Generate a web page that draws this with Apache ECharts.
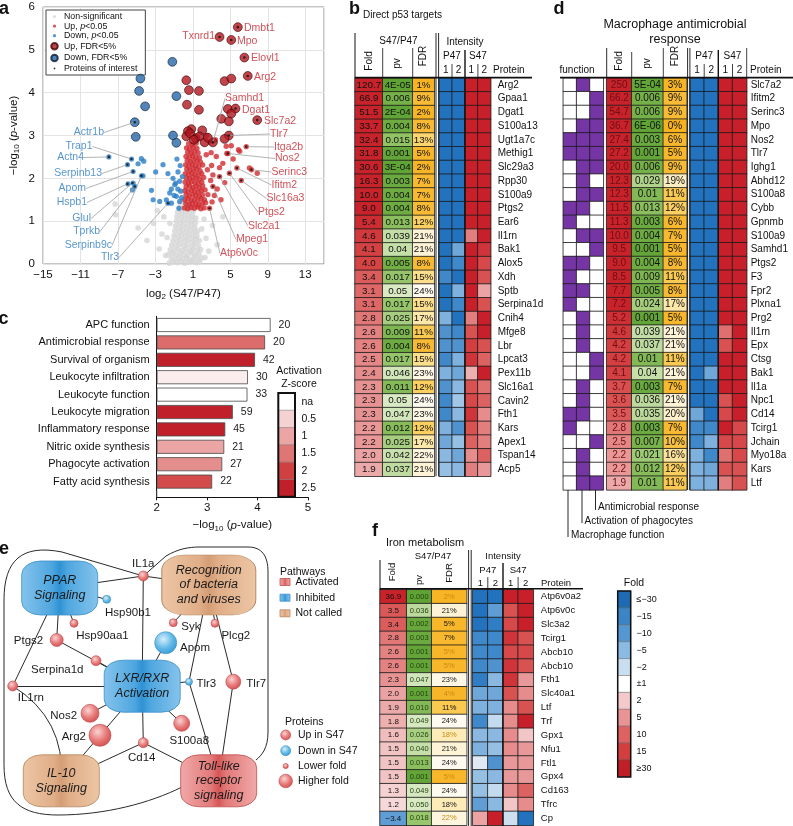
<!DOCTYPE html>
<html>
<head>
<meta charset="utf-8">
<title>Figure</title>
<script src="https://cdn.jsdelivr.net/npm/echarts@6/dist/echarts.min.js"></script>
<style>
html,body{margin:0;padding:0;background:#fff;}
#chart{width:793px;height:826px;}
</style>
</head>
<body>
<div id="chart"></div>
<script>
// ======================= DATA =======================
// ---- Panel a : volcano (log2 S47/P47, -log10 p) ----
const volcanoGray = [
[-1.52,0.02],[-1.08,0.05],[-0.66,0.03],[-0.28,0.06],[0.12,0.02],[0.51,0.04],[0.93,0.07],[1.34,0.03],[1.72,0.05],
[-1.31,0.13],[-0.88,0.11],[-0.47,0.15],[-0.06,0.12],[0.33,0.14],[0.74,0.10],[1.12,0.16],[1.55,0.12],[1.94,0.14],
[-1.62,0.22],[-1.18,0.24],[-0.79,0.21],[-0.37,0.25],[0.04,0.23],[0.43,0.20],[0.85,0.26],[1.26,0.22],[1.66,0.24],
[-1.41,0.33],[-0.97,0.31],[-0.58,0.35],[-0.15,0.32],[0.26,0.34],[0.66,0.30],[1.05,0.36],[1.47,0.32],[1.83,0.34],
[-1.25,0.44],[-0.83,0.42],[-0.42,0.46],[0.02,0.43],[0.41,0.45],[0.82,0.41],[1.21,0.47],[1.58,0.43],
[-1.12,0.55],[-0.71,0.53],[-0.30,0.57],[0.13,0.54],[0.54,0.56],[0.95,0.52],[1.36,0.58],[1.68,0.55],
[-1.02,0.66],[-0.61,0.64],[-0.19,0.68],[0.22,0.65],[0.63,0.67],[1.04,0.63],[1.44,0.66],
[-0.93,0.77],[-0.50,0.75],[-0.09,0.79],[0.32,0.76],[0.73,0.78],[1.14,0.74],[1.50,0.77],
[-0.86,0.88],[-0.44,0.86],[-0.02,0.90],[0.39,0.87],[0.80,0.89],[1.20,0.85],
[-0.77,0.99],[-0.35,0.97],[0.07,1.01],[0.48,0.98],[0.89,1.00],[1.27,0.96],
[-0.70,1.10],[-0.27,1.08],[0.15,1.12],[0.56,1.09],[0.96,1.11],[1.31,1.07],
[-0.62,1.21],[-0.20,1.19],[0.22,1.23],[0.63,1.20],[1.02,1.22],
[-0.48,1.32],[-0.08,1.30],[0.31,1.34],[0.70,1.31],
[-0.31,1.42],[0.09,1.44],[0.48,1.41],
[-7.30,1.40],[-7.25,1.15],[-4.85,0.84],[-3.90,0.55],[-3.20,0.95],[-2.60,0.35],[-2.30,0.70],[-2.10,1.10],
[2.40,0.60],[2.70,0.30],[3.10,0.90],[3.60,0.45],[2.20,1.05],[-1.90,0.20],[2.30,0.15],[-2.80,1.25],[4.20,1.10],
[-1.75,0.62],[1.95,0.82],[-1.45,0.95]
];
const volcanoUpP = [
[0.10,1.31],[0.45,1.29],[0.80,1.32],[1.15,1.30],[1.50,1.33],[1.85,1.29],[2.20,1.31],
[0.25,1.41],[0.60,1.39],[0.95,1.42],[1.30,1.40],[1.65,1.38],[2.00,1.41],[2.35,1.43],
[0.13,1.50],[0.48,1.52],[0.83,1.49],[1.18,1.51],[1.53,1.48],[1.88,1.52],[2.23,1.50],
[0.27,1.61],[0.62,1.59],[0.97,1.62],[1.32,1.60],[1.67,1.58],[2.02,1.61],
[0.15,1.71],[0.50,1.69],[0.85,1.72],[1.20,1.70],[1.55,1.68],[1.90,1.71],[2.30,1.73],
[0.28,1.80],[0.63,1.82],[0.98,1.79],[1.33,1.81],[1.68,1.78],[2.05,1.82],
[0.17,1.91],[0.52,1.89],[0.87,1.92],[1.22,1.90],[1.57,1.88],[1.95,1.91],
[0.31,2.01],[0.66,1.99],[1.01,2.02],[1.36,2.00],[1.71,1.98],[2.15,2.02],
[0.20,2.11],[0.55,2.09],[0.90,2.12],[1.25,2.10],[1.60,2.08],[1.95,2.11],
[0.35,2.21],[0.70,2.19],[1.05,2.22],[1.40,2.20],[1.77,2.18],
[0.23,2.31],[0.58,2.29],[0.93,2.32],[1.28,2.30],[1.63,2.28],[2.05,2.31],
[0.39,2.41],[0.74,2.39],[1.09,2.42],[1.44,2.40],[1.80,2.38],
[0.27,2.51],[0.62,2.49],[0.97,2.52],[1.32,2.50],[1.70,2.48],
[0.45,2.61],[0.80,2.59],[1.15,2.62],[1.55,2.60],
[0.33,2.71],[0.68,2.69],[1.03,2.72],[1.43,2.70],
[0.55,2.81],[0.95,2.79],[1.35,2.82],
[3.14,2.08],[3.85,2.04],[4.63,2.58],[5.87,2.67],[5.70,2.24],[7.04,2.24],[6.16,1.95],[4.90,2.12],[3.85,2.25],
[3.50,2.51],[2.43,2.55],[2.78,1.30],[3.14,1.81],[7.26,2.20],[7.87,2.12],[4.73,2.58],[5.10,2.76],[4.56,2.75],[6.00,2.63],
[6.70,2.74],[3.30,1.60],[2.90,1.95],[3.60,1.75],[4.20,2.35],[2.80,2.85],[3.00,2.30],[4.00,1.50],[5.30,2.45],
[3.40,2.90],[2.50,3.00],[3.05,1.45],[2.95,2.60],[4.40,1.90],[2.60,1.62],[2.55,2.20]
];
const volcanoDownP = [
[-7.97,2.50],[-5.55,2.45],[-4.50,2.46],[-5.98,2.32],[-4.85,2.34],[-4.24,2.40],[-5.38,2.16],[-4.49,2.06],[-4.32,2.06],
[-5.92,1.87],[-5.38,1.89],[-5.20,1.81],[-5.45,1.73],[-2.97,2.15],[-1.66,2.11],[-2.19,2.32],[-0.59,2.15],[-0.84,1.89],
[-0.41,1.93],[-3.42,1.72],[-3.24,1.50],[-2.54,1.46],[-1.83,1.50],[-1.47,1.66],[-0.76,1.58],[-1.29,1.42],[-0.41,1.46],
[-0.48,1.30],[-0.94,1.85],[-1.12,2.00],[-0.12,2.04],[-1.66,1.42],[-0.30,1.70],[-0.60,1.75],[-0.20,1.55],[-1.00,1.60],
[-0.35,2.30],[-0.70,2.45],[-1.30,1.75]
];
const volcanoUpFDR = [
[5.80,5.53],[3.85,5.30],[5.10,5.23],[6.50,4.82],[6.86,4.39],[4.38,4.27],[5.10,4.33],[0.30,4.29],[0.58,4.06],[1.65,4.04],
[0.37,3.72],[1.65,3.60],[4.73,3.62],[5.55,3.63],[5.10,3.51],[4.03,3.39],[4.84,3.33],[7.87,3.36],[0.84,3.15],[0.47,3.10],
[2.00,3.12],[0.30,2.98],[1.30,2.94],[1.72,2.98],[2.25,2.84],[3.14,2.84],[4.84,3.00],[4.38,2.92],[0.70,3.05],[1.10,2.90],[2.60,2.95]
];
const volcanoDownFDR = [
[-1.19,4.72],[-4.60,4.33],[-4.74,4.04],[-0.76,3.92],[-4.10,3.68],[-5.20,3.31],[-5.10,2.97],[-1.12,3.00],[-0.76,2.83]
];
const labelledNames = ['Txnrd1','Dmbt1','Mpo','Elovl1','Arg2','Samhd1','Dgat1','Slc7a2','Tlr7','Itga2b','Nos2','Serinc3','Ifitm2','Slc16a3','Ptgs2','Slc2a1','Mpeg1','Atp6v0c',
  'Actr1b','Trap1','Actn4','Serpinb13','Apom','Hspb1','Glul','Tprkb','Serpinb9c','Tlr3'];
const labelledLog2FC = [3.85,5.80,5.10,6.50,6.86,3.14,5.55,7.87,4.84,6.70,4.73,7.26,5.70,6.16,4.90,3.85,3.14,2.78,
  -5.20,-5.55,-7.97,-5.98,-5.38,-5.98,-5.45,-5.20,-4.49,-1.66];
const labelledLogP = [5.30,5.53,5.23,4.82,4.39,2.84,3.63,3.36,3.00,2.74,2.58,2.20,2.24,1.95,2.12,2.04,1.81,1.30,
  3.31,2.45,2.50,2.32,2.16,1.87,1.89,1.81,2.06,1.42];

// ---- Panel c : enriched functions ----
const cTerms = ['APC function','Antimicrobial response','Survival of organism','Leukocyte infiltration','Leukocyte function',
  'Leukocyte migration','Inflammatory response','Nitric oxide synthesis','Phagocyte activation','Fatty acid synthesis'];
const cLogP = [4.26,4.15,3.95,3.81,3.80,3.51,3.36,3.34,3.30,3.10];
const cCount = [20,20,42,30,33,59,45,21,27,22];
const cZ = [null,1.6,2.6,0.2,null,2.6,2.5,1.0,1.25,1.9];
const cZLegend = ['na','0.5','1','1.5','2','2.5'];
const cZLegendValues = [null,0.5,1,1.5,2,2.5];

// ---- Panel b : direct p53 targets ----
const bProteins = ['Arg2','Gpaa1','Dgat1','S100a13','Ugt1a7c','Methig1','Slc29a3','Rpp30','S100a9','Ptgs2','Ear6','Il1rn','Bak1','Alox5',
  'Xdh','Sptb','Serpina1d','Cnih4','Mfge8','Lbr','Lpcat3','Pex11b','Slc16a1','Cavin2','Fth1','Kars','Apex1','Tspan14','Acp5'];
const bFold = [120.7,66.9,51.5,33.7,32.4,31.8,30.6,16.3,10.0,9.0,5.4,4.6,4.1,4.0,3.4,3.1,3.1,2.8,2.6,2.6,2.5,2.4,2.3,2.3,2.3,2.2,2.2,2.0,1.9];
const bPv = ['4E-05','0.006','2E-04','0.004','0.015','0.001','3E-04','0.003','0.004','0.004','0.013','0.039','0.04','0.005','0.017',
  '0.05','0.017','0.025','0.009','0.004','0.017','0.046','0.011','0.05','0.047','0.012','0.025','0.042','0.037'];
const bFdr = [1,9,2,8,13,5,2,7,7,8,12,21,21,8,15,24,15,17,11,8,15,23,12,24,23,12,17,22,21];
const bIntensity = [ // P47 rep1, P47 rep2, S47 rep1, S47 rep2 (scaled)
[-2,-2,2,2],[-2,-2,2,2],[-2,-2,2,2],[-2,-2,2,2],[-2,-2,2,2],[-2,-2,2,2],[-2,-2,2,2],[-2,-2,2,2],[-2,-2,2,2],[-2,-2,2,2],[-2,-2,2,2],
[-2,-2,1.2,2],[-2,-1.3,2,1.8],[-2,-1.6,2,1.6],[-1.6,-2,2,1.5],[-2,-1.2,2,0.9],[-2,-1.6,2,1.5],[-1.2,-2,1.2,2],[-1.5,-1.6,1.5,2],
[-1.5,-1.5,1.7,1.5],[-1.6,-1.2,1.8,1.4],[-1.2,-1.3,0.8,2],[-1.5,-1.1,1.5,1.3],[-1.6,-0.9,1.6,1.4],[-1.6,-1.1,1.8,1.1],
[-1.2,-1.5,1.5,1.2],[-1.3,-1.0,1.4,1.2],[-1.1,-1.3,1.1,1.4],[-1.0,-1.1,1.2,1.0]
];

// ---- Panel d : macrophage antimicrobial response ----
const dProteins = ['Slc7a2','Ifitm2','Serinc3','Mpo','Nos2','Tlr7','Ighg1','Abhd12','S100a8','Cybb','Gpnmb','S100a9','Samhd1','Ptgs2','F3',
  'Fpr2','Plxna1','Prg2','Il1rn','Epx','Ctsg','Bak1','Il1a','Npc1','Cd14','Tcirg1','Jchain','Myo18a','Kars','Ltf'];
const dFold = [250,66.2,54.7,36.7,27.4,27.2,20.0,12.3,12.3,11.5,11.3,10.0,9.5,9.0,8.5,7.7,7.2,5.2,4.6,4.2,4.2,4.1,3.7,3.6,3.5,2.8,2.5,2.2,2.2,1.9];
const dPv = ['5E-04','0.006','0.006','6E-06','0.003','0.001','0.006','0.029','0.01','0.013','0.003','0.004','0.001','0.004','0.009',
  '0.005','0.024','0.001','0.039','0.037','0.01','0.04','0.003','0.036','0.035','0.003','0.007','0.021','0.012','0.01'];
const dFdr = [3,9,9,0,6,5,9,19,11,12,6,7,5,8,11,8,17,5,21,21,11,21,7,21,20,7,10,16,12,11];
const dFunctionNames = ['Macrophage function','Activation of phagocytes','Antimicrobial response'];
const dFunction = [
[0,1,0],[0,0,1],[0,0,1],[0,1,1],[1,1,1],[1,1,1],[0,1,1],[0,1,0],[0,1,1],[1,1,0],[1,0,0],[0,1,1],[0,0,1],[1,1,0],[1,0,0],
[1,1,0],[1,0,0],[0,1,0],[0,1,0],[0,1,0],[0,0,1],[0,0,1],[0,1,0],[0,1,0],[1,1,0],[1,0,0],[0,0,1],[0,1,0],[0,1,0],[0,1,1]
];
const dIntensity = [
[-2,-2,2,2],[-2,-2,2,2],[-2,-2,2,2],[-2,-2,2,2],[-2,-2,2,2],[-2,-2,2,2],[-2,-2,2,2],[-2,-2,2,2],[-2,-2,2,2],[-2,-2,2,2],
[-2,-2,2,2],[-2,-2,2,2],[-2,-2,2,2],[-2,-2,2,2],[-2,-2,2,2],[-2,-2,2,2],[-2,-2,2,2],[-2,-2,2,2],
[-2,-2,1.3,2],[-2,-2,1.5,2],[-2,-2,2,2],[-2,-1.3,2,2],[-2,-2,2,2],[-2,-2,1.5,2],[-1.3,-2,1.6,2],[-1.6,-1.6,2,1.6],
[-1.6,-1.2,1.6,1.6],[-1.2,-1.6,1.3,1.6],[-1.2,-1.3,1.5,1.5],[-1.2,-1.2,1.2,1.5]
];

// ---- Panel f : iron metabolism ----
const fProteins = ['Atp6v0a2','Atp6v0c','Slc3a2','Tcirg1','Abcb10','Abcb10','Fth1','Slc40a1','Ltf','Trf','Gpx1','Nfu1','Ftl1','Gpx4','Cd163','Tfrc','Cp'];
const fFold = [36.9,3.5,3.4,2.8,2.6,2.6,2.3,2.0,1.9,1.8,1.6,1.5,1.5,1.5,1.3,1.2,-3.4];
const fPv = ['0.000','0.036','0.002','0.003','0.001','0.001','0.047','0.001','0.010','0.049','0.026','0.040','0.013','0.001','0.049','0.050','0.018'];
const fFdr = [2,21,5,7,5,5,23,4,11,24,18,21,24,5,24,18,22];
const fFdrFlag = [1,0,0,0,1,1,0,1,0,0,1,0,0,1,0,0,1];
const fIntensity = [
[-2,-2,2,2],[-2,-1.4,1.5,2],[-2,-1.8,1.6,2],[-1.6,-1.6,1.8,1.5],[-1.6,-1.6,1.6,1.6],[-1.6,-1.5,1.8,1.5],[-1.8,-1.1,1.8,1.0],
[-1.3,-1.3,1.5,1.1],[-1.2,-1.2,1.1,1.5],[-1.6,-0.6,1.1,2],[-1.1,-1.1,1.1,0.6],[-1.2,-1.0,1.1,1.0],[-0.3,-1.5,1.0,1.0],
[-1.0,-1.1,1.0,1.0],[-1.0,-0.6,1.1,1.4],[-1.4,-1.1,0.6,1.1],[0.9,2,-0.5,-2]
];
const foldLegendLabels = ['\u2264\u221230','\u221215','\u221210','\u22125','\u22122','\u00b11','2','5','10','15','\u226530'];
const foldLegendValues = [-30,-15,-10,-5,-2,1,2,5,10,15,30];

// ---- Panel e : network ----
const netPathways = ['PPAR','Recognition','LXR','IL10','TLR'];
const netPathwayText = ['PPAR\nSignaling','Recognition\nof bacteria\nand viruses','LXR/RXR\nActivation','IL-10\nSignaling','Toll-like\nreceptor\nsignaling'];
const netPathwayState = ['inhibited','notcalled','inhibited','notcalled','activated'];
const netProteins = ['IL1a','Hsp90b1','Hsp90aa1','Ptgs2','Syk','Plcg2','Apom','Serpina1d','IL1rn','Tlr3','Tlr7','Nos2','Arg2','S100a8','Cd14'];
const netProteinDir = ['up','down','up','up','up','up','down','up','up','down','up','up','up','up','up'];
const netLinks = [['PPAR','IL1a'],['IL1a','Recognition'],['IL1a','LXR'],['Hsp90b1','PPAR'],['Hsp90aa1','PPAR'],['Ptgs2','PPAR'],
  ['Ptgs2','LXR'],['PPAR','IL1rn'],['IL1rn','LXR'],['IL1rn','IL10'],['Serpina1d','LXR'],['Syk','Recognition'],['Plcg2','Recognition'],
  ['Apom','LXR'],['Tlr3','LXR'],['Tlr3','Recognition'],['Tlr3','TLR'],['Tlr7','Recognition'],['Tlr7','TLR'],['Nos2','LXR'],
  ['Arg2','LXR'],['Arg2','IL10'],['S100a8','LXR'],['Cd14','LXR'],['Cd14','IL10'],['Cd14','TLR']];

// ======================= LAYOUT / STYLE =======================
const FONT = "'Liberation Sans', Arial, Helvetica, sans-serif";
const MINUS = '\u2212';
const labelSpots = {
 Txnrd1:[215,36,'right',0], Dmbt1:[244,28,'left',0], Mpo:[237,41.5,'left',0], Elovl1:[251,58.5,'left',0], Arg2:[254,77,'left',0],
 Samhd1:[225,98.5,'left',1], Dgat1:[242,110,'left',0], Slc7a2:[264,121,'left',0], Tlr7:[270,134,'left',1], Itga2b:[274,147,'left',1],
 Nos2:[275,158.5,'left',1], Serinc3:[271.5,172,'left',1], Ifitm2:[271.5,185,'left',1], Slc16a3:[266.5,198.5,'left',1], Ptgs2:[258,212,'left',1],
 Slc2a1:[248,226,'left',1], Mpeg1:[236,239.5,'left',1], Atp6v0c:[220,253.5,'left',1],
 Actr1b:[104,132.5,'right',1], Trap1:[92.5,146.5,'right',1], Actn4:[84,157.5,'right',1], Serpinb13:[102,173.5,'right',1], Apom:[86,188.5,'right',1],
 Hspb1:[87,202.5,'right',1], Glul:[91,218.5,'right',1], Tprkb:[100,231.5,'right',1], Serpinb9c:[112,245.5,'right',1], Tlr3:[119,257.5,'right',1]
};
const netLayout = {
 PPAR:[59.7,588,76,54], Recognition:[208.8,585,94,60], LXR:[142.2,686.2,76,52], IL10:[61.3,780.8,76,52], TLR:[218.7,780.8,76,52],
 IL1a:[143.3,576,10,0,-12], Hsp90b1:[106.7,599.3,8,21.3,13.7], Hsp90aa1:[74,623.3,8,28.5,12.7], Ptgs2:[56.7,640,13,-28.2,1],
 Syk:[173.3,622.7,8,17.5,4], Plcg2:[215,623.3,8,20.8,12.4], Apom:[165.7,642.7,22,29.3,5], Serpina1d:[96,660.7,10,-38.7,9.3],
 IL1rn:[12.7,686,10,18.1,12.3], Tlr3:[189,681.7,7,17.3,2.3], Tlr7:[233.3,681.7,15,22.9,2.3], Nos2:[90,713.3,18,-26.3,2.7],
 Arg2:[100,735.3,22,-26.2,2], S100a8:[181.7,723.3,16,7.5,17.7], Cd14:[143.3,742.7,10,-1.6,15]
};
const netCurve = {'IL1rn-IL10':0.3};

function hex2rgb(h){h=h.replace('#','');return [parseInt(h.slice(0,2),16),parseInt(h.slice(2,4),16),parseInt(h.slice(4,6),16)];}
function rgb2hex(a){return '#'+a.map(v=>Math.round(Math.max(0,Math.min(255,v))).toString(16).padStart(2,'0')).join('');}
function ramp(stops, v){
  if (v<=stops[0][0]) return stops[0][1];
  for (let i=1;i<stops.length;i++){
    if (v<=stops[i][0]){
      const t=(v-stops[i-1][0])/(stops[i][0]-stops[i-1][0]);
      const a=hex2rgb(stops[i-1][1]), b=hex2rgb(stops[i][1]);
      return rgb2hex(a.map((x,k)=>x+(b[k]-x)*t));
    }
  }
  return stops[stops.length-1][1];
}
const FOLD_POS=[[1,'#fbe6e6'],[1.5,'#f2c3c3'],[2,'#eba2a2'],[3,'#df6c6c'],[4,'#d54343'],[6,'#c8222b']];
const FOLD_NEG=[[1,'#e8f0f8'],[2,'#c6dbef'],[3,'#6fa7d9'],[4,'#4a8fcc'],[6,'#2a72b8']];
function foldColor(v){ return v>=0 ? ramp(FOLD_POS, v) : ramp(FOLD_NEG, -v); }
const INT_STOPS=[[-2,'#2272bd'],[-1.6,'#3f88c9'],[-1.2,'#7fb1de'],[-0.6,'#c4dbef'],[0,'#f7f7f7'],[0.6,'#f2c6c6'],[1.1,'#e68c8c'],[1.5,'#d95252'],[2,'#c8202a']];
const PV_STOPS=[[0,'#5fa335'],[0.005,'#72ae45'],[0.015,'#91c264'],[0.03,'#b2d48e'],[0.05,'#d8e9c3']];
const FDR_STOPS=[[0,'#f7b21f'],[9,'#f8bb35'],[12,'#fbd060'],[15,'#fcdf8c'],[18,'#fdebb8'],[21,'#fef3d6'],[24,'#fffaf0']];
const Z_STOPS=[[0,'#ffffff'],[0.5,'#f5d2d2'],[1,'#eba5a5'],[1.5,'#df7676'],[2,'#d04040'],[2.5,'#c0202a']];
const LEGEND_FOLD_COLORS = {'-30':'#1e6bb3','-15':'#3b84c6','-10':'#5597d0','-5':'#8bbbe2','-2':'#c9dff1','1':'#ffffff','2':'#f4c9c9','5':'#e99494','10':'#de6262','15':'#d33f3f','30':'#c11f28'};
function zColor(z){ return z==null ? '#ffffff' : ramp(Z_STOPS, z); }
function fmtFold(v){ const a=Math.abs(v); const s=(a>=100 && Number.isInteger(a)) ? String(a) : a.toFixed(1); return (v<0?MINUS:'')+s; }
function fmtTick(v){ return v<0 ? MINUS+Math.abs(v) : String(v); }

const grids=[], xAxes=[], yAxes=[], series=[], G=[];

// ---------- a : volcano ----------
grids.push({left:43, top:7, width:281, height:257, show:true, borderColor:'#8a8a8a', borderWidth:1});
xAxes.push({type:'value', gridIndex:0, min:-15, max:15, interval:4,
  axisLine:{show:false}, axisTick:{show:false},
  splitLine:{show:true, lineStyle:{color:'#e4e4e4', width:1}},
  axisLabel:{fontSize:11.5, color:'#111', fontFamily:FONT, margin:5, showMaxLabel:false, formatter:v=> v===15?'':fmtTick(v)},
  name:'log{s|2} (S47/P47)', nameLocation:'middle', nameGap:23,
  nameTextStyle:{fontSize:11.5, color:'#111', fontFamily:FONT, rich:{s:{fontSize:8, fontFamily:FONT, verticalAlign:'bottom', padding:[6,0,0,0]}}}});
yAxes.push({type:'value', gridIndex:0, min:0, max:6, interval:1,
  axisLine:{show:false}, axisTick:{show:false},
  splitLine:{show:true, lineStyle:{color:'#e4e4e4', width:1}},
  axisLabel:{fontSize:11.5, color:'#111', fontFamily:FONT, margin:8},
  name:MINUS+'log{s|10} ({i|p}-value)', nameLocation:'middle', nameGap:22, nameRotate:90,
  nameTextStyle:{fontSize:11.5, color:'#111', fontFamily:FONT, rich:{s:{fontSize:8, fontFamily:FONT, verticalAlign:'bottom', padding:[6,0,0,0]}, i:{fontSize:11.5, fontStyle:'italic', fontFamily:FONT}}}});

series.push({name:'Non-significant', type:'scatter', xAxisIndex:0, yAxisIndex:0, data:volcanoGray, symbolSize:5.6, itemStyle:{color:'#d6d6d6'}, silent:true, z:2});
series.push({name:'Up, p<0.05', type:'scatter', xAxisIndex:0, yAxisIndex:0, data:volcanoUpP, symbolSize:5.4, itemStyle:{color:'#cf2a30'}, silent:true, z:3});
series.push({name:'Down, p<0.05', type:'scatter', xAxisIndex:0, yAxisIndex:0, data:volcanoDownP, symbolSize:5.2, itemStyle:{color:'#2a7dc4'}, silent:true, z:3});
series.push({name:'Up, FDR<5%', type:'scatter', xAxisIndex:0, yAxisIndex:0, data:volcanoUpFDR, symbolSize:8.8, itemStyle:{color:'#b3171f', borderColor:'#3a0808', borderWidth:0.8}, silent:true, z:4});
series.push({name:'Down, FDR<5%', type:'scatter', xAxisIndex:0, yAxisIndex:0, data:volcanoDownFDR, symbolSize:8.8, itemStyle:{color:'#2766a8', borderColor:'#0c1c30', borderWidth:0.8}, silent:true, z:4});
series.push({name:'Proteins of interest', type:'scatter', xAxisIndex:0, yAxisIndex:0, symbolSize:2.6, itemStyle:{color:'#111'}, silent:true, z:5,
  data: labelledNames.map((n,i)=>({name:n, value:[labelledLog2FC[i], labelledLogP[i]],
     label:{color: labelledLog2FC[i]>0 ? '#c4262e' : '#2d7cc0'}, labelLine:{show: !!labelSpots[n][3]}})),
  label:{show:true, formatter:'{b}', fontSize:10.5, fontFamily:FONT},
  labelLine:{show:true, length2:0, lineStyle:{color:'#a0a0a0', width:0.8}},
  labelLayout:(p)=>{ const s=labelSpots[labelledNames[p.dataIndex]]; return {x:s[0], y:s[1], align:s[2], verticalAlign:'middle', hideOverlap:false}; }
});

// ---------- c : bar chart ----------
grids.push({left:156.7, top:316.3, width:151.2, height:174});
xAxes.push({type:'value', gridIndex:1, min:2, max:5, interval:1, startValue:2, offset:7,
  axisLine:{show:true, lineStyle:{color:'#111', width:1}}, axisTick:{show:true, length:3, lineStyle:{color:'#111'}},
  splitLine:{show:false},
  axisLabel:{fontSize:11.5, color:'#111', fontFamily:FONT, margin:5},
  name:MINUS+'log{s|10} ({i|p}-value)', nameLocation:'middle', nameGap:21,
  nameTextStyle:{fontSize:11.5, color:'#111', fontFamily:FONT, rich:{s:{fontSize:8, fontFamily:FONT, verticalAlign:'bottom', padding:[6,0,0,0]}, i:{fontSize:11.5, fontStyle:'italic', fontFamily:FONT}}}});
yAxes.push({type:'category', gridIndex:1, data:cTerms, inverse:true,
  axisLine:{show:true, lineStyle:{color:'#111', width:1}}, axisTick:{show:false},
  axisLabel:{fontSize:11, color:'#111', fontFamily:FONT, margin:7, interval:0}});
series.push({type:'bar', xAxisIndex:1, yAxisIndex:1, barWidth:14, silent:true,
  itemStyle:{borderColor:'#4a4a4a', borderWidth:0.8},
  data: cLogP.map((v,i)=>({value:v, itemStyle:{color:zColor(cZ[i])}})),
  label:{show:true, position:'right', distance:8, fontSize:10.5, color:'#222', fontFamily:FONT, formatter:(p)=>String(cCount[p.dataIndex])}});

// ---------- e : network (hidden pixel-scaled axes) ----------
grids.push({left:0, top:540, width:300, height:286});
xAxes.push({type:'value', gridIndex:2, min:0, max:300, show:false});
yAxes.push({type:'value', gridIndex:2, min:540, max:826, inverse:true, show:false});
function linGrad(stops){ return {type:'linear', x:0, y:0, x2:1, y2:0, colorStops:stops}; }
function radGrad(stops){ return {type:'radial', x:0.4, y:0.35, r:0.75, colorStops:stops}; }
function pathFill(state){
  const c = state==='inhibited' ? ['#86c4ec','#4ea6df','#2f92d4'] : state==='activated' ? ['#f1a9a9','#e27a7a','#d65656'] : ['#edc6a5','#e0ae88','#d49d75'];
  return linGrad([{offset:0,color:c[0]},{offset:0.4,color:c[1]},{offset:0.5,color:c[2]},{offset:0.6,color:c[1]},{offset:1,color:c[0]}]);
}
function sphereFill(dir){
  return dir==='up' ? radGrad([{offset:0,color:'#fbd2d2'},{offset:0.55,color:'#e67676'},{offset:1,color:'#cf4646'}])
                    : radGrad([{offset:0,color:'#d8effb'},{offset:0.55,color:'#5fb7e6'},{offset:1,color:'#2f95d0'}]);
}
const netNodes = [];
netPathways.forEach((p,i)=>{
  const L=netLayout[p];
  netNodes.push({name:p, value:[L[0],L[1]], symbol:'roundRect', symbolSize:[L[2],L[3]],
    itemStyle:{color:pathFill(netPathwayState[i]), borderColor: netPathwayState[i]==='inhibited'?'#3c8fc8':(netPathwayState[i]==='activated'?'#c05050':'#b48660'), borderWidth:0.8},
    label:{show:true, position:'inside', formatter:netPathwayText[i], fontStyle:'italic', fontSize:12.5, lineHeight:14.5, color:'#1a1a1a', fontFamily:FONT}});
});
netProteins.forEach((p,i)=>{
  const L=netLayout[p];
  netNodes.push({name:p, value:[L[0],L[1]], symbol:'circle', symbolSize:L[2],
    itemStyle:{color:sphereFill(netProteinDir[i]), borderColor: netProteinDir[i]==='up'?'#b84a4a':'#3a8cc0', borderWidth:0.6},
    label:{show:true, position:'inside', offset:[L[3],L[4]], formatter:p, fontSize:11.5, color:'#1a1a1a', fontFamily:FONT}});
});
series.push({type:'graph', coordinateSystem:'cartesian2d', xAxisIndex:2, yAxisIndex:2, silent:true, z:3,
  emphasis:{disabled:true}, data:netNodes,
  links: netLinks.map(l=>({source:l[0], target:l[1], lineStyle:{curveness: netCurve[l[0]+'-'+l[1]]||0}})),
  lineStyle:{color:'#2a2a2a', width:1, opacity:1}});

// ---------- tables ----------
function addTable(left, top, width, height, nCols, nRows, cells, opts){
  opts = opts || {};
  const gi = grids.length;
  grids.push({left, top, width, height});
  const xi = xAxes.length;
  xAxes.push({type:'category', gridIndex:gi, data:Array.from({length:nCols},(_,i)=>String(i)), show:false});
  const yi = yAxes.length;
  const rl = opts.rowLabels;
  yAxes.push({type:'category', gridIndex:gi, inverse:true, data:Array.from({length:nRows},(_,i)=>String(i)),
    show:!!rl, position:'right', axisLine:{show:false}, axisTick:{show:false}, splitLine:{show:false},
    axisLabel:{show:!!rl, interval:0, margin:opts.rowMargin||7, fontSize:opts.rowFont||9.5, color:'#111', fontFamily:FONT,
      formatter:(v)=> rl ? rl[+v] : ''}});
  series.push({type:'heatmap', xAxisIndex:xi, yAxisIndex:yi, silent:true, emphasis:{disabled:true},
    label:{show:true, fontFamily:FONT, fontSize:opts.fontSize||10, color:opts.textColor||'#111', formatter:(p)=> p.data.txt==null?'':p.data.txt},
    data: cells.map(c=>{ const o={value:[c.col,c.row,c.v], txt:c.txt, itemStyle:{color:c.color, borderColor:'#1b1b1b', borderWidth:0.8}}; if(c.textColor) o.label={color:c.textColor}; return o; })});
}
function foldCells(arr){ return arr.map((v,i)=>({col:0,row:i,v,txt:fmtFold(v),color:foldColor(v)})); }
function pvCells(arr){ return arr.map((s,i)=>({col:0,row:i,v:Number(s),txt:s,color:ramp(PV_STOPS,Number(s))})); }
function fdrCells(arr, flags){ return arr.map((f,i)=>({col:0,row:i,v:f,txt:f+'%',color:ramp(FDR_STOPS,f), textColor: flags&&flags[i]?'#c98a12':undefined})); }
function intCells(rows){ const out=[]; rows.forEach((r,i)=>r.forEach((v,c)=>out.push({col:c,row:i,v,txt:null,color:ramp(INT_STOPS,v)}))); return out; }
function funcCells(rows){ const out=[]; rows.forEach((r,i)=>r.forEach((v,c)=>out.push({col:c,row:i,v,txt:null,color:v?'#7535a5':'#ffffff'}))); return out; }

const bTop=78.1, bH=13.73*bProteins.length;
addTable(355, bTop, 27.7, bH, 1, bProteins.length, foldCells(bFold), {fontSize:9.8});
addTable(382.7, bTop, 30, bH, 1, bProteins.length, pvCells(bPv), {fontSize:9.8});
addTable(412.7, bTop, 21.6, bH, 1, bProteins.length, fdrCells(bFdr), {fontSize:9.8});
addTable(439.3, bTop, 51.4, bH, 4, bProteins.length, intCells(bIntensity), {rowLabels:bProteins, rowMargin:7, rowFont:10});
const dTop=78, dH=13.73*dProteins.length;
addTable(563.3, dTop, 40, dH, 3, dProteins.length, funcCells(dFunction), {});
addTable(606.7, dTop, 25, dH, 1, dProteins.length, foldCells(dFold), {fontSize:10, textColor:'#6d0e13'});
addTable(631.7, dTop, 31.6, dH, 1, dProteins.length, pvCells(dPv), {fontSize:10});
addTable(663.3, dTop, 23.4, dH, 1, dProteins.length, fdrCells(dFdr), {fontSize:10});
addTable(690, dTop, 56.7, dH, 4, dProteins.length, intCells(dIntensity), {rowLabels:dProteins, rowMargin:4, rowFont:10});
const fTop=589.8, fH=13.85*fProteins.length;
addTable(380, fTop, 26.7, fH, 1, fProteins.length, foldCells(fFold), {fontSize:8});
addTable(406.7, fTop, 25, fH, 1, fProteins.length, pvCells(fPv), {fontSize:7.5, textColor:'#24420f'});
addTable(431.7, fTop, 35, fH, 1, fProteins.length, fdrCells(fFdr, fFdrFlag), {fontSize:7.5});
addTable(472.7, fTop, 60.6, fH, 4, fProteins.length, intCells(fIntensity), {rowLabels:fProteins, rowMargin:7.5, rowFont:9.5});

// ======================= GRAPHIC (titles, headers, legends) =======================
function T(text,x,y,o){ o=o||{}; G.push({type:'text', x, y, rotation:o.rot?Math.PI/2:0, silent:true, z:10,
  style:{text, fill:o.color||'#111', font:(o.italic?'italic ':'')+(o.bold?'bold ':'')+(o.size||10)+'px '+FONT, align:o.align||'center', verticalAlign:'middle'}}); }
function Ln(x1,y1,x2,y2,w,c,z){ G.push({type:'line', silent:true, z:z==null?10:z, shape:{x1,y1,x2,y2}, style:{stroke:c||'#111', lineWidth:w||1}}); }
function Bz(x1,y1,c1x,c1y,c2x,c2y,x2,y2){ G.push({type:'bezierCurve', silent:true, z:1, shape:{x1,y1,cpx1:c1x,cpy1:c1y,cpx2:c2x,cpy2:c2y,x2,y2}, style:{fill:null, stroke:'#2a2a2a', lineWidth:1}}); }
function Rc(x,y,w,h,fill,stroke,lw){ G.push({type:'rect', silent:true, z:10, shape:{x,y,width:w,height:h}, style:{fill:fill||'none', stroke:stroke||null, lineWidth:lw||0}}); }
function Ci(cx,cy,r,fill,stroke){ G.push({type:'circle', silent:true, z:10, shape:{cx,cy,r}, style:{fill, stroke, lineWidth:0.6}}); }

[['a',4,9],['b',354.5,9],['c',3.5,319],['d',559,9],['e',4,549],['f',375,531]].forEach(a=>T(a[0],a[1],a[2],{bold:true,size:18}));

// b headers
T('Direct p53 targets',363,15,{align:'left',size:10});
T('S47/P47',398.5,41.5); T('Fold',368.8,61,{rot:1}); T('pv',397.7,63.5,{rot:1}); T('FDR',423.5,56,{rot:1});
T('Intensity',465,42.5); T('P47',452,56.5); T('S47',477.9,56.5);
T('1',445.7,70.5); T('2',458.6,70.5); T('1',471.4,70.5); T('2',484.3,70.5);
T('Protein',493,70.5,{align:'left'});
Ln(355,33,355,78,1); Ln(382.7,48,382.7,78,0.8); Ln(412.7,48,412.7,78,0.8);
Ln(436,33,436,476.3,0.9); Ln(438.6,33,438.6,476.3,0.9); Ln(465,50,465,476.3,1.4);
Ln(452,64,452,77,0.8); Ln(477.9,64,477.9,77,0.8); Ln(355,77.6,532,77.6,1.6);

// d headers
T('Macrophage antimicrobial',675,25,{size:12.5}); T('response',675,39.5,{size:12.5});
T('function',577,70.5);
T('Fold',619.3,61,{rot:1}); T('pv',647.5,63.5,{rot:1}); T('FDR',675,56,{rot:1});
T('P47',704.2,56.5); T('S47',732.5,56.5);
T('1',697.1,70.5); T('2',711.3,70.5); T('1',725.4,70.5); T('2',739.6,70.5);
T('Protein',750,70.5,{align:'left'});
Ln(606.7,48,606.7,78,0.9); Ln(631.7,52,631.7,78,0.8); Ln(663.3,48,663.3,78,0.8);
Ln(687.6,48,687.6,490,0.9); Ln(689.9,48,689.9,490,0.9); Ln(718.3,50,718.3,490,1.4); Ln(746.7,48,746.7,78,0.8);
Ln(704.2,64,704.2,77,0.8); Ln(732.5,64,732.5,77,0.8); Ln(560,77.6,793,77.6,1.6);
Ln(568,490,568,537,0.9); Ln(582,490,582,523,0.9); Ln(595.5,490,595.5,510,0.9);
T(dFunctionNames[2],598,507,{align:'left'}); T(dFunctionNames[1],584.5,521,{align:'left'}); T(dFunctionNames[0],571,535,{align:'left'});

// f headers
T('Iron metabolism',386,543,{align:'left',size:11});
T('S47/P47',433,556.5,{size:9.5}); T('Intensity',503,556.5,{size:9.5});
T('Fold',392,572,{rot:1,size:9.5}); T('pv',419.2,580,{rot:1,size:9.5}); T('FDR',449.2,573,{rot:1,size:9.5});
T('P47',487.8,570,{size:9.5}); T('S47',518.1,570,{size:9.5});
T('1',480.3,583.3,{size:9.5}); T('2',495.4,583.3,{size:9.5}); T('1',510.6,583.3,{size:9.5}); T('2',525.7,583.3,{size:9.5});
T('Protein',541,583.3,{align:'left',size:9.5});
Ln(380,560,380,590,1); Ln(468.6,550,468.6,826,0.9); Ln(471.2,550,471.2,826,0.9); Ln(503,563,503,826,1.4);
Ln(487.8,577,487.8,589,0.8); Ln(518.1,577,518.1,589,0.8); Ln(380,588.8,583,588.8,1.6);

// fold legend
T('Fold',634,583.5,{size:10.5});
foldLegendValues.forEach((v,i)=>{ Rc(617.7,591+16.9*i,13,16.9,LEGEND_FOLD_COLORS[String(v)],'#555',0.4); T(foldLegendLabels[i],636.5,599.5+16.9*i,{align:'left',size:9}); });
Rc(617.7,591,13,16.9*11,'none','#111',1.5);

// c legend + axis extension
T('Activation',299,371,{size:10.5}); T('Z-score',299,384,{size:10.5});
cZLegendValues.forEach((z,i)=>{ Rc(278.3,393+17.3*i,16.7,17.3,zColor(z),'#777',0.4); T(cZLegend[i],301.5,401.7+17.3*i,{align:'left',size:10.5}); });
Rc(278.3,393,16.7,17.3*6,'none','#111',2);
Ln(156.7,490,156.7,497.5,1);

// e outer loops (connectors)
Ln(143.3,576,62,552,1,'#2a2a2a',1);
Bz(62,552, 22,544, 4,560, 4,600);
Ln(4,600,4,765,1,'#2a2a2a',1);
Bz(4,765, 4,802, 22,815, 58,815);
Bz(58,815, 105,815, 150,803, 182,787);
Ln(143.3,576,166,556,1,'#2a2a2a',1);
Bz(166,556, 178,549, 188,547, 200,547);
Ln(200,547,248,547,1,'#2a2a2a',1);
Bz(248,547, 262,547, 268,556, 268,572);
Ln(268,572,268,732,1,'#2a2a2a',1);
Bz(268,732, 268,748, 262,755, 256,760);

T('Pathways',280,572,{align:'left',size:10.5});
[['Activated','activated',582],['Inhibited','inhibited',597.7],['Not called','notcalled',613.3]].forEach(a=>{
  Rc(280,a[2]-3.5,10,7,pathFill(a[1]), a[1]==='inhibited'?'#3c8fc8':(a[1]==='activated'?'#c05050':'#b48660'),0.8);
  T(a[0],295.5,a[2],{align:'left',size:10.5});
});
T('Proteins',285,722,{align:'left',size:10.5});
Ci(285.7,735,5,sphereFill('up'),'#b84a4a'); T('Up in S47',298,735,{align:'left',size:10.5});
Ci(285.7,750.7,5,sphereFill('down'),'#3a8cc0'); T('Down in S47',298,750.7,{align:'left',size:10.5});
Ci(285.7,766,2.6,sphereFill('up'),'#b84a4a'); T('Lower fold',298,766,{align:'left',size:10.5});
Ci(285.7,781,6.8,sphereFill('up'),'#b84a4a'); T('Higher fold',298,781,{align:'left',size:10.5});

// ======================= OPTION =======================
const ICON_S='path://M0,0M10,10M3.2,5A1.8,1.8,0,1,1,6.8,5A1.8,1.8,0,1,1,3.2,5Z';
const ICON_L='path://M0,0M10,10M1.4,5A3.6,3.6,0,1,1,8.6,5A3.6,3.6,0,1,1,1.4,5Z';
const ICON_T='path://M0,0M10,10M4,5A1,1,0,1,1,6,5A1,1,0,1,1,4,5Z';
const option = {
  animation:false,
  backgroundColor:'#ffffff',
  textStyle:{fontFamily:FONT},
  grid:grids, xAxis:xAxes, yAxis:yAxes, series,
  legend:[{left:46, top:10, orient:'vertical', selectedMode:false, itemWidth:9, itemHeight:9, itemGap:0.6,
    padding:[2,8,2,3], borderColor:'#444', borderWidth:1, backgroundColor:'#fff',
    textStyle:{fontSize:8.8, fontFamily:FONT, color:'#111', rich:{i:{fontSize:8.8, fontStyle:'italic', fontFamily:FONT, color:'#111'}}},
    formatter:(n)=> n.replace('p<','{i|p}<'),
    data:[{name:'Non-significant',icon:ICON_S},{name:'Up, p<0.05',icon:ICON_S},{name:'Down, p<0.05',icon:ICON_S},
          {name:'Up, FDR<5%',icon:ICON_L},{name:'Down, FDR<5%',icon:ICON_L},{name:'Proteins of interest',icon:ICON_T}]}],
  graphic:{elements:G}
};
const chart = echarts.init(document.getElementById('chart'), null, {renderer:'canvas', width:793, height:826});
chart.setOption(option);
</script>
</body>
</html>
